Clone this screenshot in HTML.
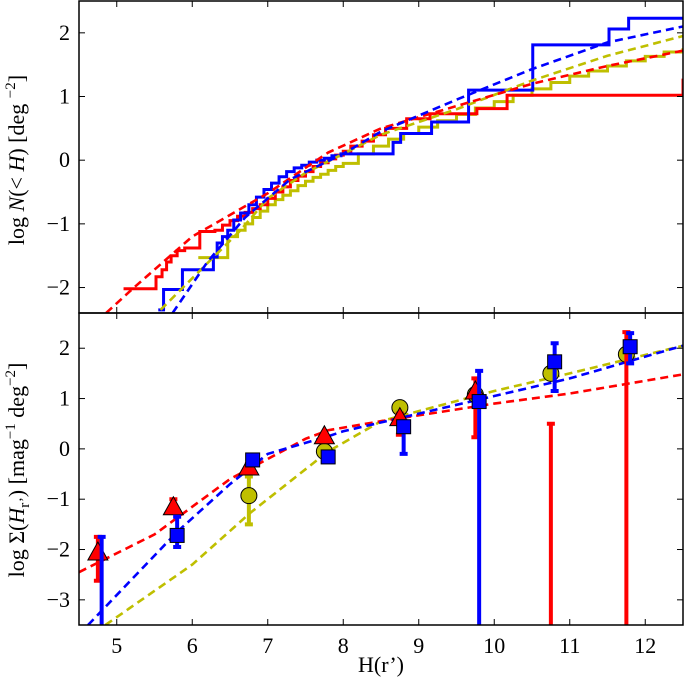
<!DOCTYPE html>
<html><head><meta charset="utf-8"><style>
html,body{margin:0;padding:0;background:#fff;width:686px;height:683px;overflow:hidden;}
svg{display:block;font-family:"Liberation Serif","DejaVu Serif",serif;}
</style></head><body>
<svg id="c" width="686" height="683" viewBox="0 0 686 683" xmlns="http://www.w3.org/2000/svg">
<g id="top"></g>
<g id="bot"></g>
<text x="24" y="160" font-size="22" text-anchor="middle" transform="rotate(-90 24 160)">log <tspan font-style="italic">N</tspan>(&lt; <tspan font-style="italic">H</tspan>) [deg <tspan dy="-9" font-size="15">−2</tspan><tspan dy="9">]</tspan></text>
<text x="24" y="470" font-size="22" text-anchor="middle" transform="rotate(-90 24 470)">log Σ(<tspan font-style="italic">H</tspan><tspan dy="5" font-size="15">r’</tspan><tspan dy="-5">) [mag</tspan><tspan dy="-9" font-size="15">−1</tspan><tspan dy="9"> deg</tspan><tspan dy="-9" font-size="15">−2</tspan><tspan dy="9">]</tspan></text>
<text x="381" y="672" font-size="22" text-anchor="middle">H(r’)</text>
</svg>
<script>
// ---- data ----
const xTicks=[5,6,7,8,9,10,11,12];
const topYTicks=[-2,-1,0,1,2];
const botYTicks=[-3,-2,-1,0,1,2];
const redStepH=[5.09,5.52,5.6,5.66,5.72,5.8,5.9,6.05,6.1,6.3,6.4,6.5,6.6,6.7,6.8,6.9,7.0,7.1,7.2,7.3,7.4,7.5,7.6,7.7,7.8,7.9,8.0,8.1,8.25,8.4,8.56,8.84,9.15,9.77,10.17,12.5];
const redStepV=[-2.02,-1.83,-1.72,-1.6,-1.5,-1.42,-1.38,-1.38,-1.12,-1.1,-1.02,-0.95,-0.88,-0.82,-0.76,-0.7,-0.6,-0.5,-0.42,-0.32,-0.25,-0.18,-0.1,-0.04,0.02,0.08,0.14,0.22,0.3,0.4,0.5,0.65,0.73,0.81,1.02,1.28];
const blueStepH=[5.55,5.62,5.87,6.28,6.33,6.4,6.47,6.55,6.64,6.75,6.85,6.95,7.05,7.15,7.25,7.35,7.45,7.55,7.65,7.75,7.85,7.97,8.66,8.76,9.17,9.66,10.51,11.52,11.78,12.5];
const blueStepV=[-2.35,-2.03,-1.72,-1.52,-1.3,-1.2,-1.1,-0.94,-0.83,-0.7,-0.58,-0.46,-0.36,-0.26,-0.18,-0.12,-0.08,-0.03,0.0,0.03,0.07,0.1,0.28,0.42,0.6,1.1,1.81,2.06,2.23,2.23];
const ylwStepH=[6.08,6.47,6.6,6.7,6.8,6.9,7.0,7.1,7.2,7.3,7.4,7.5,7.6,7.7,7.8,7.9,8.0,8.2,8.4,8.6,8.8,9.0,9.25,9.5,9.75,10.0,10.25,10.5,10.75,11.0,11.25,11.5,11.75,12.0,12.25,12.5];
const ylwStepV=[-1.53,-1.2,-1.1,-1.0,-0.9,-0.8,-0.7,-0.62,-0.55,-0.48,-0.4,-0.33,-0.27,-0.22,-0.16,-0.1,-0.05,0.1,0.22,0.33,0.42,0.52,0.62,0.72,0.82,0.92,1.02,1.12,1.22,1.32,1.4,1.48,1.56,1.63,1.7,1.76];
const redFitH=[4.86,5.2,6,7,7.8,8.5,9.5,10.5,11.5,12.5];
const redFitV=[-2.4,-2.03,-1.2,-0.52,0.12,0.5,0.85,1.2,1.48,1.72];
const blueFitH=[5.74,6.2,6.7,7.3,8,8.5,9.5,10.5,11.5,12.5];
const blueFitV=[-2.4,-1.6,-0.9,-0.3,0.1,0.45,0.95,1.43,1.85,2.1];
const ylwFitH=[5.58,6.64,7,7.5,8,8.5,9.5,10.5,11.5,12.5];
const ylwFitV=[-2.35,-1.1,-0.6,-0.2,0.1,0.4,0.8,1.25,1.64,1.95];
// bottom panel
const redDiffH=[4.5,5.5,6.5,7.0,7.5,7.8,8.5,10,11,12.5];
const redDiffV=[-2.45,-1.7,-0.6,-0.2,0.2,0.37,0.55,0.9,1.1,1.48];
const blueDiffH=[4.62,5.8,6.5,7,7.5,7.8,8,9,10,11,12.5];
const blueDiffV=[-3.5,-1.65,-0.7,-0.1,0.12,0.25,0.35,0.7,1.05,1.4,2.05];
const ylwDiffH=[4.85,6,6.77,7.8,8,8.5,10,11,12.5];
const ylwDiffV=[-3.5,-2.3,-1.27,-0.05,0.12,0.55,1.15,1.5,2.05];
const triH=[4.75,5.75,6.75,7.75,8.75,9.75,10.75,11.75];
const triV=[-2.07,-1.17,-0.38,0.24,0.6,1.13,-9,-9];
const triHi=[-1.75,-1.0,-0.3,0.3,0.7,1.4,0.5,2.32];
const triLo=[-2.62,-1.2,-0.45,0.15,0.28,0.23,-9,-9];
const sqH=[4.8,5.8,6.8,7.8,8.8,9.8,10.8,11.8];
const sqV=[-9,-1.72,-0.22,-0.16,0.44,0.94,1.73,2.03];
const sqHi=[-1.75,-1.35,-0.15,-0.1,0.55,1.55,2.1,2.3];
const sqLo=[-9,-1.95,-0.3,-0.25,-0.1,-9,1.15,1.7];
const cirH=[6.75,7.75,8.75,9.75,10.75,11.75];
const cirV=[-0.93,-0.05,0.82,1.08,1.5,1.88];
const cirHi=[-0.55,0.02,0.9,1.15,1.55,1.93];
const cirLo=[-1.5,-0.12,0.75,1.0,1.45,1.83];

const NS='http://www.w3.org/2000/svg';
const L=79,R=683;
const X=h=>L+(h-4.5)*(R-L)/8;
const P1={t:1,b:313,min:-2.4,max:2.5};
const P2={t:313,b:625,min:-3.5,max:2.7};
const Y=(p,v)=>p.b-(v-p.min)*(p.b-p.t)/(p.max-p.min);
const RED='#ff0000',BLUE='#0000ff',YLW='#bfbf00';
function mk(tag,attrs,parent){const e=document.createElementNS(NS,tag);for(const k in attrs)e.setAttribute(k,attrs[k]);parent.appendChild(e);return e;}
const defs=mk('defs',{},document.getElementById('c'));
function clip(id,p){const d=mk('clipPath',{id:id},defs);mk('rect',{x:L,y:p.t,width:R-L,height:p.b-p.t},d);}
clip('cp1',P1);clip('cp2',P2);
const gT=document.getElementById('top'),gB=document.getElementById('bot');
const t1=mk('g',{'clip-path':'url(#cp1)'},gT);
const t2=mk('g',{'clip-path':'url(#cp2)'},gB);
function line(g,p,hs,vs,col,dash,step,name){
  let d='';
  for(let i=0;i<hs.length;i++){
    const x=X(hs[i]),y=Y(p,vs[i]);
    if(i===0)d+='M'+x+','+y;
    else if(step){d+=' L'+x+','+Y(p,vs[i-1])+' L'+x+','+y;}
    else d+=' L'+x+','+y;
  }
  const e=mk('path',{d:d,fill:'none',stroke:col,'stroke-width':dash?2.6:3,'stroke-dasharray':dash?'8,5':'none'},g);
  
  
}
line(t1,P1,ylwStepH,ylwStepV,YLW,false,true,'yellow-cumulative-step');
line(t1,P1,redStepH,redStepV,RED,false,true,'red-cumulative-step');
line(t1,P1,blueStepH,blueStepV,BLUE,false,true,'blue-cumulative-step');
line(t1,P1,ylwFitH,ylwFitV,YLW,true,false,'yellow-cumulative-fit');
line(t1,P1,redFitH,redFitV,RED,true,false,'red-cumulative-fit');
line(t1,P1,blueFitH,blueFitV,BLUE,true,false,'blue-cumulative-fit');
line(t2,P2,ylwDiffH,ylwDiffV,YLW,true,false,'yellow-differential-fit');
line(t2,P2,redDiffH,redDiffV,RED,true,false,'red-differential-fit');
line(t2,P2,blueDiffH,blueDiffV,BLUE,true,false,'blue-differential-fit');
const cy=v=>Math.min(Y(P2,v),P2.b+6);
function ebar(g,h,hi,lo,col,w){
  const x=X(h),y1=cy(hi),y2=cy(lo);
  const e=mk('path',{d:'M'+x+','+y1+' L'+x+','+y2+' M'+(x-4)+','+y1+' L'+(x+4)+','+y1+' M'+(x-4)+','+y2+' L'+(x+4)+','+y2,stroke:col,'stroke-width':w,fill:'none'},g);
  
  
}
cirH.forEach((h,i)=>ebar(t2,h,cirHi[i],cirLo[i],YLW,4));
cirH.forEach((h,i)=>{const e=mk('circle',{cx:X(h),cy:Y(P2,cirV[i]),r:8,fill:YLW,stroke:'#000','stroke-width':1},t2);
  
  });
triH.forEach((h,i)=>ebar(t2,h,triHi[i],triLo[i],RED,4));
triH.forEach((h,i)=>{if(triV[i]<P2.min)return;const x=X(h),y=Y(P2,triV[i]);
  const e=mk('polygon',{points:(x)+','+(y-11)+' '+(x-10)+','+(y+7)+' '+(x+10)+','+(y+7),fill:RED,stroke:'#000','stroke-width':1},t2);
  
  });
sqH.forEach((h,i)=>ebar(t2,h,sqHi[i],sqLo[i],BLUE,4));
sqH.forEach((h,i)=>{if(sqV[i]<P2.min)return;const x=X(h),y=Y(P2,sqV[i]);
  const e=mk('rect',{x:x-7,y:y-7,width:14,height:14,fill:BLUE,stroke:'#000','stroke-width':1},t2);
  
  });
// axes
function axes(g,p,yt,showX){
  const f=mk('rect',{x:L,y:p.t,width:R-L,height:p.b-p.t,fill:'none',stroke:'#000','stroke-width':1.5},g);
  
  
  xTicks.forEach(t=>{const x=X(t);
    mk('line',{x1:x,x2:x,y1:p.b,y2:p.b-6,stroke:'#000'},g);
    mk('line',{x1:x,x2:x,y1:p.t,y2:p.t+6,stroke:'#000'},g);
    if(showX){const e=mk('text',{x:x,y:p.b+28,'font-size':22,'text-anchor':'middle'},g);e.textContent=t;
      
      }
  });
  yt.forEach(t=>{const y=Y(p,t);
    mk('line',{x1:L,x2:L+6,y1:y,y2:y,stroke:'#000'},g);
    mk('line',{x1:R,x2:R-6,y1:y,y2:y,stroke:'#000'},g);
    const e=mk('text',{x:L-9,y:y+7,'font-size':22,'text-anchor':'end'},g);e.textContent=t<0?'−'+(-t):t;
    
    
  });
}
axes(gT,P1,topYTicks,false);
axes(gB,P2,botYTicks,true);
</script>
</body></html>
